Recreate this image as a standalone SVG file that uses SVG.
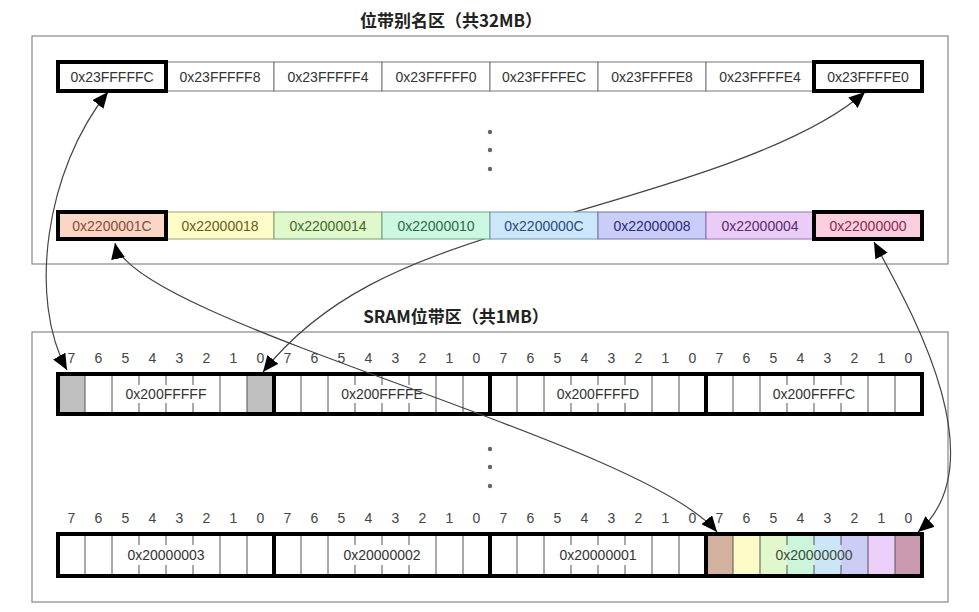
<svg xmlns="http://www.w3.org/2000/svg" width="979" height="612" viewBox="0 0 979 612">
<style>
.title{font-family:"Noto Sans CJK SC","Noto Sans",sans-serif;font-weight:bold;font-size:17px;fill:#222;text-anchor:middle}
.frame{fill:#fff;stroke:#888;stroke-width:1.2}
.cell{stroke:#777;stroke-width:1}
.thick{fill:none;stroke:#000;stroke-width:4}
.lbl{font-family:"Liberation Sans",Arial,sans-serif;font-size:14px;text-anchor:middle}
.bit{font-family:"Liberation Sans",Arial,sans-serif;font-size:14px;fill:#444;text-anchor:middle}
.bl{stroke:#555;stroke-width:1}
.dot{fill:#666}
.conn{fill:none;stroke:#444;stroke-width:1.2;marker-start:url(#ah);marker-end:url(#ah)}
</style>
<defs>
<marker id="ah" markerUnits="userSpaceOnUse" markerWidth="18" markerHeight="14" refX="16" refY="7" orient="auto-start-reverse">
<path d="M0,0 L16,7 L0,14 z" fill="#000"/>
</marker>
</defs>

<text class="title" x="451" y="27">位带别名区（共32MB）</text>
<rect class="frame" x="32" y="36" width="916" height="228"/>
<text class="title" x="456" y="323">SRAM位带区（共1MB）</text>
<rect class="frame" x="32" y="332" width="916" height="270"/>

<g id="dots-top" class="dot"><circle cx="490" cy="132" r="2.2"/><circle cx="490" cy="150" r="2.2"/><circle cx="490" cy="169" r="2.2"/></g>
<g id="dots-sram" class="dot"><circle cx="490" cy="449" r="2.2"/><circle cx="490" cy="467" r="2.2"/><circle cx="490" cy="486" r="2.2"/></g>

<!-- SRAM row 1 -->
<g id="sram-row1">
<g class="bit">
<text x="71.5" y="363">7</text><text x="98.5" y="363">6</text><text x="125.5" y="363">5</text><text x="152.5" y="363">4</text><text x="179.5" y="363">3</text><text x="206.5" y="363">2</text><text x="233.5" y="363">1</text><text x="260.5" y="363">0</text>
<text x="287.5" y="363">7</text><text x="314.5" y="363">6</text><text x="341.5" y="363">5</text><text x="368.5" y="363">4</text><text x="395.5" y="363">3</text><text x="422.5" y="363">2</text><text x="449.5" y="363">1</text><text x="476.5" y="363">0</text>
<text x="503.5" y="363">7</text><text x="530.5" y="363">6</text><text x="557.5" y="363">5</text><text x="584.5" y="363">4</text><text x="611.5" y="363">3</text><text x="638.5" y="363">2</text><text x="665.5" y="363">1</text><text x="692.5" y="363">0</text>
<text x="719.5" y="363">7</text><text x="746.5" y="363">6</text><text x="773.5" y="363">5</text><text x="800.5" y="363">4</text><text x="827.5" y="363">3</text><text x="854.5" y="363">2</text><text x="881.5" y="363">1</text><text x="908.5" y="363">0</text>
</g>
<g id="byte-200FFFFF">
<rect x="58" y="374" width="216" height="40" fill="#fff"/>
<rect x="58" y="374" width="27" height="40" fill="#c0c0c0"/>
<rect x="247" y="374" width="27" height="40" fill="#c0c0c0"/>
<path class="bl" d="M85,374V414M112,374V414M220,374V414M247,374V414M139,374V385M139,403V414M166,374V385M166,403V414M193,374V385M193,403V414"/>
<text class="lbl" x="166" y="399" fill="#333">0x200FFFFF</text>
</g>
<g id="byte-200FFFFE">
<rect x="274" y="374" width="216" height="40" fill="#fff"/>
<path class="bl" d="M301,374V414M328,374V414M436,374V414M463,374V414M355,374V385M355,403V414M382,374V385M382,403V414M409,374V385M409,403V414"/>
<text class="lbl" x="382" y="399" fill="#333">0x200FFFFE</text>
</g>
<g id="byte-200FFFFD">
<rect x="490" y="374" width="216" height="40" fill="#fff"/>
<path class="bl" d="M517,374V414M544,374V414M652,374V414M679,374V414M571,374V385M571,403V414M598,374V385M598,403V414M625,374V385M625,403V414"/>
<text class="lbl" x="598" y="399" fill="#333">0x200FFFFD</text>
</g>
<g id="byte-200FFFFC">
<rect x="706" y="374" width="216" height="40" fill="#fff"/>
<path class="bl" d="M733,374V414M760,374V414M868,374V414M895,374V414M787,374V385M787,403V414M814,374V385M814,403V414M841,374V385M841,403V414"/>
<text class="lbl" x="814" y="399" fill="#333">0x200FFFFC</text>
</g>
<rect class="thick" x="58" y="374" width="864" height="40"/>
<path d="M274,374V414M490,374V414M706,374V414" stroke="#000" stroke-width="4"/>
</g>

<!-- SRAM row 2 -->
<g id="sram-row2">
<g class="bit">
<text x="71.5" y="523">7</text><text x="98.5" y="523">6</text><text x="125.5" y="523">5</text><text x="152.5" y="523">4</text><text x="179.5" y="523">3</text><text x="206.5" y="523">2</text><text x="233.5" y="523">1</text><text x="260.5" y="523">0</text>
<text x="287.5" y="523">7</text><text x="314.5" y="523">6</text><text x="341.5" y="523">5</text><text x="368.5" y="523">4</text><text x="395.5" y="523">3</text><text x="422.5" y="523">2</text><text x="449.5" y="523">1</text><text x="476.5" y="523">0</text>
<text x="503.5" y="523">7</text><text x="530.5" y="523">6</text><text x="557.5" y="523">5</text><text x="584.5" y="523">4</text><text x="611.5" y="523">3</text><text x="638.5" y="523">2</text><text x="665.5" y="523">1</text><text x="692.5" y="523">0</text>
<text x="719.5" y="523">7</text><text x="746.5" y="523">6</text><text x="773.5" y="523">5</text><text x="800.5" y="523">4</text><text x="827.5" y="523">3</text><text x="854.5" y="523">2</text><text x="881.5" y="523">1</text><text x="908.5" y="523">0</text>
</g>
<g id="byte-20000003">
<rect x="58" y="534" width="216" height="42" fill="#fff"/>
<path class="bl" d="M85,534V576M112,534V576M220,534V576M247,534V576M139,534V545M139,565V576M166,534V545M166,565V576M193,534V545M193,565V576"/>
<text class="lbl" x="166" y="560" fill="#333">0x20000003</text>
</g>
<g id="byte-20000002">
<rect x="274" y="534" width="216" height="42" fill="#fff"/>
<path class="bl" d="M301,534V576M328,534V576M436,534V576M463,534V576M355,534V545M355,565V576M382,534V545M382,565V576M409,534V545M409,565V576"/>
<text class="lbl" x="382" y="560" fill="#333">0x20000002</text>
</g>
<g id="byte-20000001">
<rect x="490" y="534" width="216" height="42" fill="#fff"/>
<path class="bl" d="M517,534V576M544,534V576M652,534V576M679,534V576M571,534V545M571,565V576M598,534V545M598,565V576M625,534V545M625,565V576"/>
<text class="lbl" x="598" y="560" fill="#333">0x20000001</text>
</g>
<g id="byte-20000000">
<rect x="706" y="534" width="27" height="42" fill="#d2b19e"/>
<rect x="733" y="534" width="27" height="42" fill="#fdfcc8"/>
<rect x="760" y="534" width="27" height="42" fill="#e0f8cc"/>
<rect x="787" y="534" width="27" height="42" fill="#ccf6dc"/>
<rect x="814" y="534" width="27" height="42" fill="#cce6f8"/>
<rect x="841" y="534" width="27" height="42" fill="#ccccf6"/>
<rect x="868" y="534" width="27" height="42" fill="#eccff8"/>
<rect x="895" y="534" width="27" height="42" fill="#cc9ab0"/>
<path class="bl" d="M733,534V576M760,534V576M868,534V576M895,534V576M787,534V545M787,565V576M814,534V545M814,565V576M841,534V545M841,565V576"/>
<text class="lbl" x="814" y="560" fill="#3a4a3a">0x20000000</text>
</g>
<rect class="thick" x="58" y="534" width="864" height="42"/>
<path d="M274,534V576M490,534V576M706,534V576" stroke="#000" stroke-width="4"/>
</g>

<!-- connectors -->
<g id="connectors">
<path class="conn" d="M108,92 C45,170 28,300 67,370"/>
<path class="conn" d="M865,92 C800,150 650,190 530,225 C400,262 320,300 263,372"/>
<path class="conn" d="M115,243 C130,320 640,440 717,532"/>
<path class="conn" d="M874,242 C905,300 1000,460 918,532"/>
</g>

<!-- alias region top row -->
<g id="alias-top">
<g id="a-23FFFFFC"><rect class="cell" x="58" y="62" width="108" height="29" fill="#fff"/><text class="lbl" x="112" y="81.5" fill="#333">0x23FFFFFC</text></g>
<g id="a-23FFFFF8"><rect class="cell" x="166" y="62" width="108" height="29" fill="#fff"/><text class="lbl" x="220" y="81.5" fill="#333">0x23FFFFF8</text></g>
<g id="a-23FFFFF4"><rect class="cell" x="274" y="62" width="108" height="29" fill="#fff"/><text class="lbl" x="328" y="81.5" fill="#333">0x23FFFFF4</text></g>
<g id="a-23FFFFF0"><rect class="cell" x="382" y="62" width="108" height="29" fill="#fff"/><text class="lbl" x="436" y="81.5" fill="#333">0x23FFFFF0</text></g>
<g id="a-23FFFFEC"><rect class="cell" x="490" y="62" width="108" height="29" fill="#fff"/><text class="lbl" x="544" y="81.5" fill="#333">0x23FFFFEC</text></g>
<g id="a-23FFFFE8"><rect class="cell" x="598" y="62" width="108" height="29" fill="#fff"/><text class="lbl" x="652" y="81.5" fill="#333">0x23FFFFE8</text></g>
<g id="a-23FFFFE4"><rect class="cell" x="706" y="62" width="108" height="29" fill="#fff"/><text class="lbl" x="760" y="81.5" fill="#333">0x23FFFFE4</text></g>
<g id="a-23FFFFE0"><rect class="cell" x="814" y="62" width="108" height="29" fill="#fff"/><text class="lbl" x="868" y="81.5" fill="#333">0x23FFFFE0</text></g>
<rect class="thick" x="58" y="62" width="108" height="29"/>
<rect class="thick" x="814" y="62" width="108" height="29"/>
</g>

<!-- alias region colored row -->
<g id="alias-low">
<g id="a-2200001C"><rect x="58" y="212" width="108" height="27" fill="#fad6c6" stroke="#a08070"/><text class="lbl" x="112" y="230.5" fill="#8a4a3a">0x2200001C</text></g>
<g id="a-22000018"><rect x="166" y="212" width="108" height="27" fill="#fefcc8" stroke="#a0a070"/><text class="lbl" x="220" y="230.5" fill="#6e5a1a">0x22000018</text></g>
<g id="a-22000014"><rect x="274" y="212" width="108" height="27" fill="#e0f8cc" stroke="#70a070"/><text class="lbl" x="328" y="230.5" fill="#3e6a2a">0x22000014</text></g>
<g id="a-22000010"><rect x="382" y="212" width="108" height="27" fill="#ccf7e0" stroke="#70a08a"/><text class="lbl" x="436" y="230.5" fill="#2a6a4a">0x22000010</text></g>
<g id="a-2200000C"><rect x="490" y="212" width="108" height="27" fill="#cce7f9" stroke="#7090a8"/><text class="lbl" x="544" y="230.5" fill="#2a4a7a">0x2200000C</text></g>
<g id="a-22000008"><rect x="598" y="212" width="108" height="27" fill="#c9cdf7" stroke="#7070a8"/><text class="lbl" x="652" y="230.5" fill="#2a2a7a">0x22000008</text></g>
<g id="a-22000004"><rect x="706" y="212" width="108" height="27" fill="#e9cdf8" stroke="#9070a8"/><text class="lbl" x="760" y="230.5" fill="#5a2a6a">0x22000004</text></g>
<g id="a-22000000"><rect x="814" y="212" width="108" height="27" fill="#fccfe0" stroke="#a07080"/><text class="lbl" x="868" y="230.5" fill="#8a2a4a">0x22000000</text></g>
<rect class="thick" x="58" y="212" width="108" height="27"/>
<rect class="thick" x="814" y="212" width="108" height="27"/>
</g>
</svg>
